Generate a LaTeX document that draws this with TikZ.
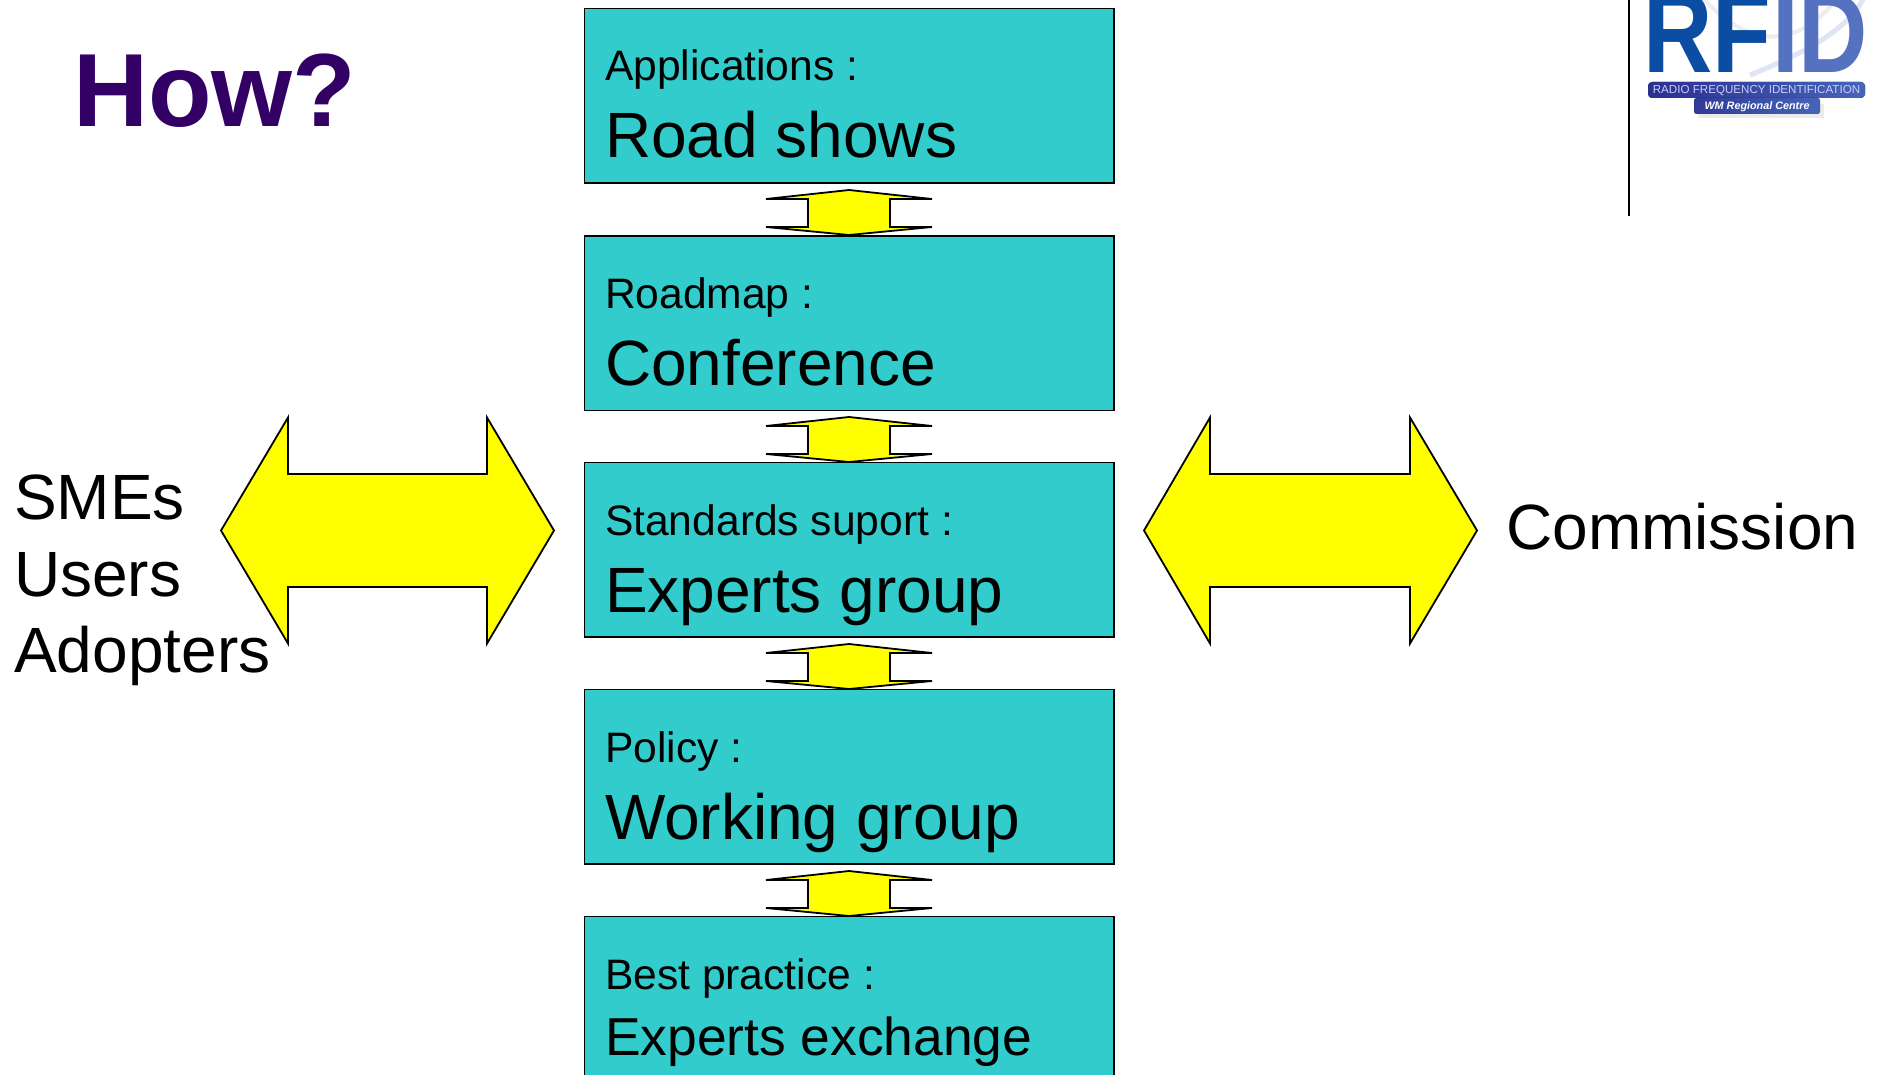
\documentclass[tikz,border=0pt]{standalone}
\usepackage{fontspec}
\setmainfont{Liberation Sans}
\usetikzlibrary{calc}
\definecolor{boxteal}{HTML}{33CCCC}
\definecolor{arrowyellow}{HTML}{FFFF00}
\definecolor{titlepurple}{HTML}{330066}
\definecolor{rfdark}{HTML}{0B4DA2}
\definecolor{idlight}{HTML}{5572C0}
\definecolor{banddark}{HTML}{2B2F90}
\definecolor{bandlight}{HTML}{4565B8}
\newcommand{\fs}[1]{\fontsize{#1}{#1}\selectfont}
\tikzset{
  x=1pt,y=-1pt,
  stagebox/.style={draw=black,line width=1.8pt,fill=boxteal,minimum width=529.5pt,minimum height=174.5pt,inner sep=0pt,outer sep=0pt,anchor=north west},
  yellowarrow/.style={draw=black,line width=1.8pt,fill=arrowyellow,line join=miter},
  small/.style={anchor=base west,inner sep=0pt,font=\fs{42.6}},
  large/.style={anchor=base west,inner sep=0pt,font=\fs{64}},
  medium/.style={anchor=base west,inner sep=0pt,font=\fs{53.4}},
}
\newcommand{\updown}[1]{%
  \draw[yellowarrow] (849,#1) -- (932,#1+9) -- (890,#1+9) -- (890,#1+37) -- (932,#1+37) -- (849,#1+45)
    -- (766,#1+37) -- (808,#1+37) -- (808,#1+9) -- (766,#1+9) -- cycle;}
\newcommand{\leftright}[4]{%
  \draw[yellowarrow] (#1,530.5) -- (#2,417.5) -- (#2,474) -- (#3,474) -- (#3,417.5) -- (#4,530.5)
    -- (#3,643.5) -- (#3,587) -- (#2,587) -- (#2,643.5) -- cycle;}
\begin{document}
\begin{tikzpicture}
\useasboundingbox (0,0) rectangle (1878,1075);
\begin{scope}
\clip (0,0) rectangle (1878,1075);
\fill[white] (0,0) rectangle (1878,1075);

% title
\node[anchor=base west,inner sep=0pt,font=\fs{104}\bfseries,text=titlepurple] (title) at (73,127) {How?};

% small double arrows
\updown{190}
\updown{417}
\updown{644}
\updown{871}

% boxes
\node[stagebox] (b1) at (584.5,8.5) {};
\node[stagebox] (b2) at (584.5,236) {};
\node[stagebox] (b3) at (584.5,462.5) {};
\node[stagebox] (b4) at (584.5,689.5) {};
\node[stagebox] (b5) at (584.5,916.5) {};

\node[small] (t1a) at (604.8,81) {Applications :};
\node[large] (t1b) at (604.8,158) {Road shows};
\node[small] (t2a) at (604.8,308) {Roadmap :};
\node[large] (t2b) at (604.8,385) {Conference};
\node[small] (t3a) at (604.8,535) {Standards suport :};
\node[large] (t3b) at (604.8,612) {Experts group};
\node[small] (t4a) at (604.8,762) {Policy :};
\node[large] (t4b) at (604.8,839) {Working group};
\node[small] (t5a) at (604.8,989) {Best practice :};
\node[medium] (t5b) at (604.8,1055) {Experts exchange};

% large double arrows
\leftright{221}{288}{487}{554}
\leftright{1144}{1210}{1410}{1477}

% side labels
\node[large] (s1) at (14,519.5) {SMEs};
\node[large] (s2) at (14,596) {Users};
\node[large] (s3) at (14,672.5) {Adopters};
\node[large] (comm) at (1506,549) {Commission};

% logo rule
\draw[black,line width=1.7pt] (1629,0) -- (1629,216);

% logo
\draw[black!7,line width=4pt] (1700,-5) .. controls (1740,40) and (1790,60) .. (1840,-5);
\draw[idlight!18,line width=5pt] (1750,75) .. controls (1800,55) and (1850,30) .. (1865,-5);
\node[anchor=base west,inner sep=0pt,font=\fs{96}\bfseries,yscale=1.2,text=rfdark] (rf) at (1643,73) {RF};
\node[anchor=base west,inner sep=0pt,font=\fs{96}\bfseries,yscale=1.2,text=idlight] (id) at (1772,73) {ID};
\fill[black!8] (1698,104) rectangle (1824,118);
\fill[left color=banddark,right color=bandlight,rounded corners=4pt] (1648,82) rectangle (1865,98);
\node[inner sep=0pt,font=\fs{11.6},text=white!80!blue] (band1) at (1756.5,90.5) {RADIO FREQUENCY IDENTIFICATION};
\fill[left color=banddark!80!bandlight,right color=bandlight,rounded corners=3pt] (1694,98) rectangle (1820,114);
\node[inner sep=0pt,font=\fs{10.8}\bfseries\itshape,text=white] (band2) at (1757,106.5) {WM Regional Centre};
\end{scope}
\end{tikzpicture}
\end{document}
